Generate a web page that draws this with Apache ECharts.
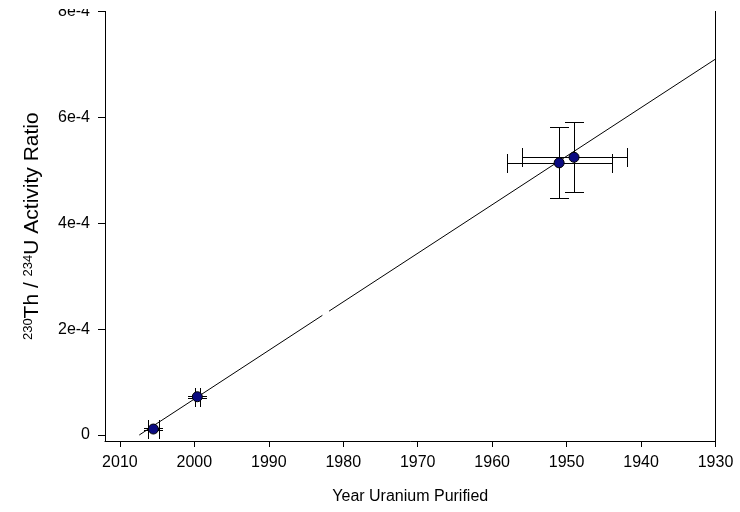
<!DOCTYPE html>
<html>
<head>
<meta charset="utf-8">
<script src="https://cdn.jsdelivr.net/npm/echarts@6/dist/echarts.min.js"></script>
<style>
  html, body { margin: 0; padding: 0; background: #fff; }
  #chart { width: 740px; height: 512px; }
</style>
</head>
<body>
<div id="chart"></div>
<script>
// measured points
const pointYears = [2005.5, 1999.6, 1951.0, 1949.0];
const pointRatios = [1.13e-5, 7.23e-5, 5.14e-4, 5.245e-4];
const yearErrors = [0.74, 0.3, 7.05, 7.05];
const ratioErrors = [0.2e-5, 0.2e-5, 0.67e-4, 0.66e-4];

// fitted line (there is a small break in it on the original)
const lineYears = [2007.4, 1982.8, null, 1981.9, 1930];
const lineRatios = [0, 2.26e-4, null, 2.34e-4, 7.10e-4];

const yearTicks = [2010, 2000, 1990, 1980, 1970, 1960, 1950, 1940, 1930];
const ratioTicks = [0, 2e-4, 4e-4, 6e-4, 8e-4];

const font = 'Liberation Sans, Arial, sans-serif';

var points = pointYears.map(function (y, i) { return [y, pointRatios[i]]; });
var errData = pointYears.map(function (y, i) {
  return [y, pointRatios[i], yearErrors[i], ratioErrors[i]];
});
var lineData = lineYears.map(function (y, i) {
  return y === null ? [null, null] : [y, lineRatios[i]];
});

function crisp(v) { return Math.round(v) + 0.5; }

function renderErr(params, api) {
  var x = api.value(0), y = api.value(1), ex = api.value(2), ey = api.value(3);
  var c = api.coord([x, y]);
  var top = api.coord([x, y + ey]);
  var bot = api.coord([x, y - ey]);
  var lft = api.coord([x + ex, y]);
  var rgt = api.coord([x - ex, y]);
  var cap = 9.5;
  var st = { stroke: '#000', lineWidth: 1 };
  var cx = crisp(c[0]), cy = crisp(c[1]);
  var t = crisp(top[1]), b = crisp(bot[1]), l = crisp(lft[0]), r = crisp(rgt[0]);
  function ln(x1, y1, x2, y2) {
    return { type: 'line', shape: { x1: x1, y1: y1, x2: x2, y2: y2 }, style: st };
  }
  return {
    type: 'group',
    children: [
      ln(cx, t, cx, b),
      ln(cx - cap, t, cx + cap, t),
      ln(cx - cap, b, cx + cap, b),
      ln(l, cy, r, cy),
      ln(l, cy - cap, l, cy + cap),
      ln(r, cy - cap, r, cy + cap)
    ]
  };
}

var myChart = echarts.init(document.getElementById('chart'));
var option = {
  animation: false,
  backgroundColor: '#fff',
  grid: { left: 105, right: 24.5, top: 11.4, bottom: 71 },
  // the top label is cut off in the original picture
  graphic: [{
    type: 'rect',
    shape: { x: 40, y: 0, width: 60, height: 9 },
    style: { fill: '#fff' },
    z: 100
  }],
  xAxis: {
    type: 'value',
    inverse: true,
    min: 1930,
    max: 2012,
    name: 'Year Uranium Purified',
    nameLocation: 'middle',
    nameGap: 48,
    nameTextStyle: { fontFamily: font, fontSize: 16, color: '#000' },
    axisLine: { show: true, onZero: false, lineStyle: { color: '#000', width: 1 } },
    axisTick: { show: true, length: 6, lineStyle: { color: '#000' }, customValues: yearTicks },
    axisLabel: {
      fontFamily: font, fontSize: 16, color: '#000', margin: 14,
      customValues: yearTicks,
      formatter: function (v) { return String(v); }
    },
    splitLine: { show: false }
  },
  yAxis: [{
    type: 'value',
    min: -1.13e-5,
    max: 8e-4,
    name: '{sup|230}{t|Th / }{sup|234}{t|U Activity Ratio}',
    nameLocation: 'middle',
    nameRotate: 90,
    nameGap: 62,
    nameTextStyle: {
      fontFamily: font, color: '#000',
      rich: {
        t: { fontFamily: font, fontSize: 21, color: '#000', verticalAlign: 'bottom' },
        sup: { fontFamily: font, fontSize: 13, color: '#000', verticalAlign: 'top' }
      }
    },
    axisLine: { show: true, onZero: false, lineStyle: { color: '#000', width: 1 } },
    axisTick: { show: true, length: 7, lineStyle: { color: '#000' }, customValues: ratioTicks },
    axisLabel: {
      fontFamily: font, fontSize: 16, color: '#000', margin: 15,
      customValues: ratioTicks,
      formatter: function (v) {
        var k = Math.round(v * 1e4);
        return k === 0 ? '0' : k + 'e-4';
      }
    },
    splitLine: { show: false }
  }, {
    type: 'value',
    position: 'right',
    min: -1.13e-5,
    max: 8e-4,
    axisLine: { show: true, onZero: false, lineStyle: { color: '#000', width: 1 } },
    axisTick: { show: false },
    axisLabel: { show: false },
    splitLine: { show: false }
  }],
  series: [
    {
      type: 'line',
      data: lineData,
      connectNulls: false,
      showSymbol: false,
      symbol: 'none',
      lineStyle: { color: '#000', width: 1 },
      z: 3
    },
    {
      type: 'custom',
      data: errData,
      renderItem: renderErr,
      encode: { x: 0, y: 1 },
      z: 2
    },
    {
      type: 'scatter',
      data: points,
      symbol: 'circle',
      symbolSize: 10,
      itemStyle: { color: '#0a0a80', borderColor: '#000', borderWidth: 1, opacity: 1 },
      z: 4
    }
  ]
};
myChart.setOption(option);
</script>
</body>
</html>
